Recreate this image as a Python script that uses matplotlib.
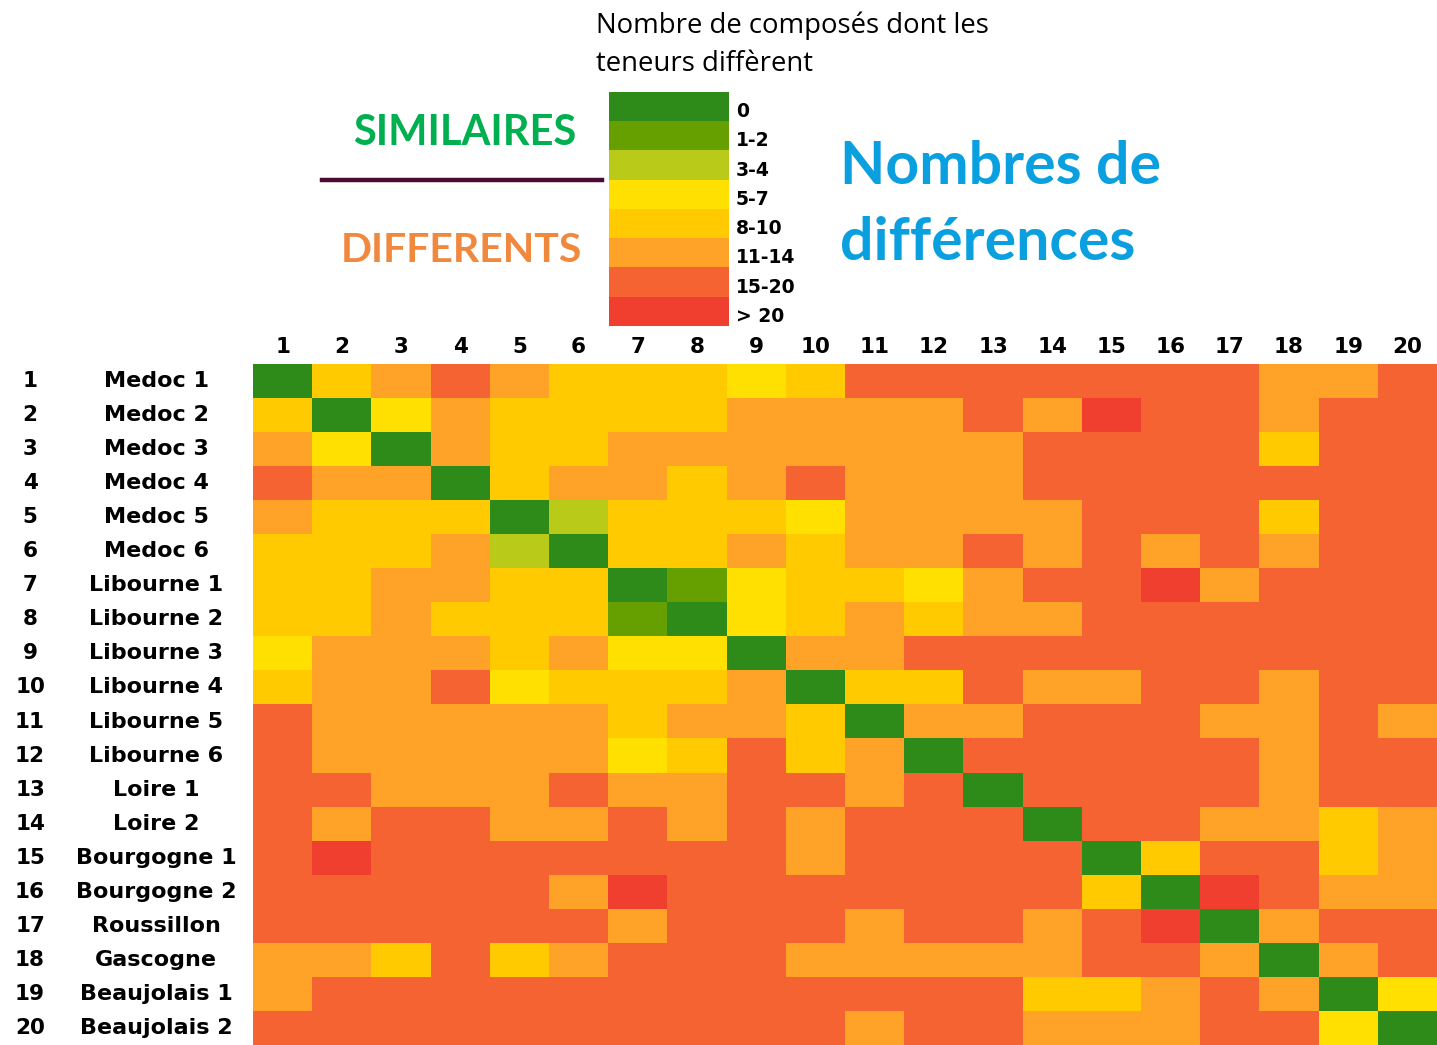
import numpy as np
import matplotlib
matplotlib.use('Agg')
import matplotlib.pyplot as plt
from matplotlib.colors import ListedColormap, BoundaryNorm
from matplotlib.transforms import blended_transform_factory

# --- données ---
vins = ["Medoc 1", "Medoc 2", "Medoc 3", "Medoc 4", "Medoc 5", "Medoc 6",
        "Libourne 1", "Libourne 2", "Libourne 3", "Libourne 4", "Libourne 5", "Libourne 6",
        "Loire 1", "Loire 2", "Bourgogne 1", "Bourgogne 2", "Roussillon", "Gascogne",
        "Beaujolais 1", "Beaujolais 2"]
classes = ["0", "1-2", "3-4", "5-7", "8-10", "11-14", "15-20", "> 20"]
couleurs = ["#2e8b1a", "#66a000", "#b9cb18", "#ffe000", "#ffcb00", "#ffa328", "#f66333", "#f03f2e"]

# indice de classe (0 = "0" ... 7 = "> 20") pour chaque paire de vins
niveaux = [
    [0, 4, 5, 6, 5, 4, 4, 4, 3, 4, 6, 6, 6, 6, 6, 6, 6, 5, 5, 6],
    [4, 0, 3, 5, 4, 4, 4, 4, 5, 5, 5, 5, 6, 5, 7, 6, 6, 5, 6, 6],
    [5, 3, 0, 5, 4, 4, 5, 5, 5, 5, 5, 5, 5, 6, 6, 6, 6, 4, 6, 6],
    [6, 5, 5, 0, 4, 5, 5, 4, 5, 6, 5, 5, 5, 6, 6, 6, 6, 6, 6, 6],
    [5, 4, 4, 4, 0, 2, 4, 4, 4, 3, 5, 5, 5, 5, 6, 6, 6, 4, 6, 6],
    [4, 4, 4, 5, 2, 0, 4, 4, 5, 4, 5, 5, 6, 5, 6, 5, 6, 5, 6, 6],
    [4, 4, 5, 5, 4, 4, 0, 1, 3, 4, 4, 3, 5, 6, 6, 7, 5, 6, 6, 6],
    [4, 4, 5, 4, 4, 4, 1, 0, 3, 4, 5, 4, 5, 5, 6, 6, 6, 6, 6, 6],
    [3, 5, 5, 5, 4, 5, 3, 3, 0, 5, 5, 6, 6, 6, 6, 6, 6, 6, 6, 6],
    [4, 5, 5, 6, 3, 4, 4, 4, 5, 0, 4, 4, 6, 5, 5, 6, 6, 5, 6, 6],
    [6, 5, 5, 5, 5, 5, 4, 5, 5, 4, 0, 5, 5, 6, 6, 6, 5, 5, 6, 5],
    [6, 5, 5, 5, 5, 5, 3, 4, 6, 4, 5, 0, 6, 6, 6, 6, 6, 5, 6, 6],
    [6, 6, 5, 5, 5, 6, 5, 5, 6, 6, 5, 6, 0, 6, 6, 6, 6, 5, 6, 6],
    [6, 5, 6, 6, 5, 5, 6, 5, 6, 5, 6, 6, 6, 0, 6, 6, 5, 5, 4, 5],
    [6, 7, 6, 6, 6, 6, 6, 6, 6, 5, 6, 6, 6, 6, 0, 4, 6, 6, 4, 5],
    [6, 6, 6, 6, 6, 5, 7, 6, 6, 6, 6, 6, 6, 6, 4, 0, 7, 6, 5, 5],
    [6, 6, 6, 6, 6, 6, 5, 6, 6, 6, 5, 6, 6, 5, 6, 7, 0, 5, 6, 6],
    [5, 5, 4, 6, 4, 5, 6, 6, 6, 5, 5, 5, 5, 5, 6, 6, 5, 0, 5, 6],
    [5, 6, 6, 6, 6, 6, 6, 6, 6, 6, 6, 6, 6, 4, 4, 5, 6, 5, 0, 3],
    [6, 6, 6, 6, 6, 6, 6, 6, 6, 6, 5, 6, 6, 5, 5, 5, 6, 6, 3, 0],
]

W, H = 1437, 1045
fig = plt.figure(figsize=(W / 100, H / 100), dpi=100)

def fx(px):
    return px / W

def fy(py):
    return 1 - py / H

# --- heatmap ---
cmap = ListedColormap(couleurs)
norm = BoundaryNorm(np.arange(-0.5, len(couleurs) + 0.5), cmap.N)
ax = fig.add_axes([fx(253), 0, fx(1437) - fx(253), fy(364)])
ax.imshow(np.array(niveaux), cmap=cmap, norm=norm, aspect='auto', interpolation='nearest')
n = len(vins)
ax.set_xticks(range(n))
ax.set_xticklabels([str(i + 1) for i in range(n)], fontsize=15.5, fontweight='bold',
                   family='DejaVu Sans')
ax.xaxis.tick_top()
ax.tick_params(axis='x', length=0, pad=5)
ax.set_yticks([])
for s in ax.spines.values():
    s.set_visible(False)

trans = blended_transform_factory(fig.transFigure, ax.transData)
for i, nom in enumerate(vins):
    ax.text(fx(30), i, str(i + 1), transform=trans, ha='center', va='center',
            fontsize=15.5, fontweight='bold', family='DejaVu Sans')
    ax.text(fx(156), i, nom, transform=trans, ha='center', va='center',
            fontsize=16, fontweight='bold', family='DejaVu Sans')

# --- légende ---
lax = fig.add_axes([fx(609), fy(326), fx(729) - fx(609), fy(92) - fy(326)])
lax.imshow(np.arange(len(couleurs)).reshape(-1, 1), cmap=cmap, norm=norm,
           aspect='auto', interpolation='nearest')
lax.axis('off')
band = (326 - 92) / len(classes)
for k, lab in enumerate(classes):
    fig.text(fx(736), fy(92 + band * (k + 0.5) + 5), lab, ha='left', va='center',
             fontsize=13.5, fontweight='bold', family='DejaVu Sans')

# --- textes ---
fig.text(fx(596), fy(26), "Nombre de composés dont les", ha='left', va='center',
         fontsize=19.8, family='Open Sans')
fig.text(fx(596), fy(64), "teneurs diffèrent", ha='left', va='center',
         fontsize=19.8, family='Open Sans')
fig.text(fx(465), fy(133), "SIMILAIRES", ha='center', va='center', color='#00b050',
         fontsize=30, fontweight='bold', family='Lato')
fig.text(fx(461), fy(250), "DIFFERENTS", ha='center', va='center', color='#f0883e',
         fontsize=29.5, fontweight='bold', family='Lato')
fig.add_artist(plt.Line2D([fx(322), fx(602)], [fy(180), fy(180)], color='#4a0a35',
                          linewidth=3.2, transform=fig.transFigure))
fig.text(fx(840), fy(167), "Nombres de", ha='left', va='center', color='#0aa0e0',
         fontsize=42.5, fontweight='bold', family='Lato')
fig.text(fx(840), fy(243), "différences", ha='left', va='center', color='#0aa0e0',
         fontsize=42.5, fontweight='bold', family='Lato')

plt.savefig("out.png", dpi=100)
